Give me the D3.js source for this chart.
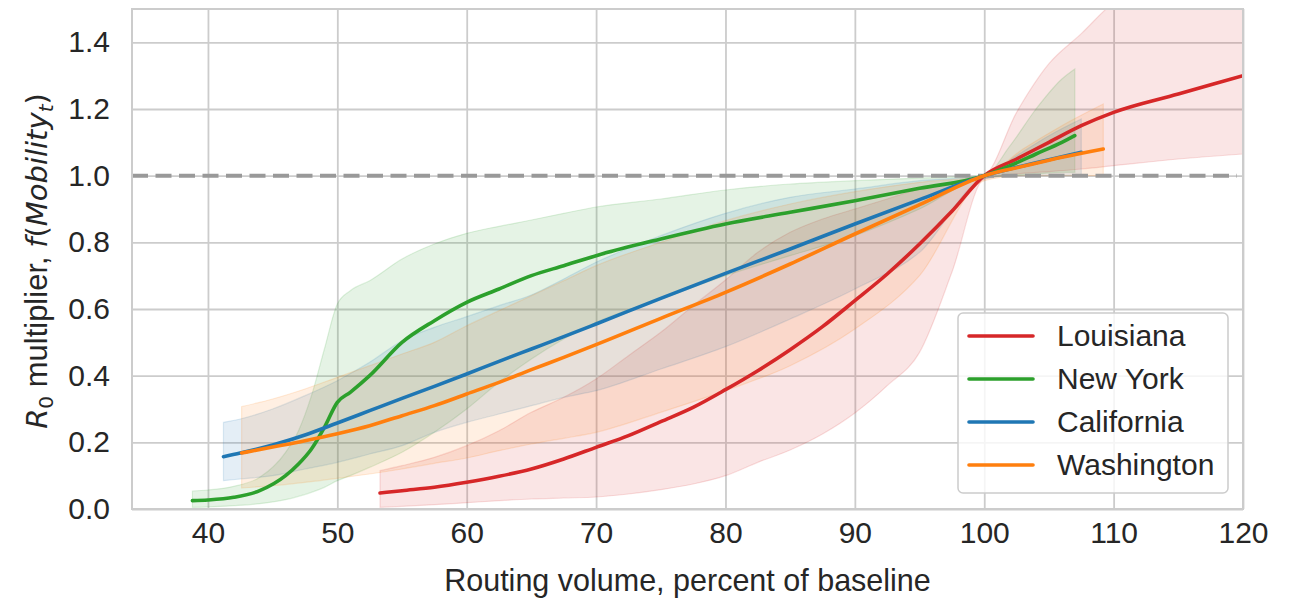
<!DOCTYPE html>
<html>
<head>
<meta charset="utf-8">
<script src="https://cdn.jsdelivr.net/npm/d3@7"></script>
<style>
  body { margin: 0; background: #fff; }
  text { font-family: "Liberation Sans", Arial, sans-serif; fill: #262626; }
</style>
</head>
<body>
<svg id="chart" width="1301" height="602"></svg>
<script>
// Louisiana
const laX    = [53.3, 55, 57.5, 60, 62.5, 65, 67.5, 70, 72.5, 75, 77.5, 80, 82.5, 85, 87.5, 90, 92.5, 95, 97.5, 100, 102.5, 105, 107.5, 110, 115, 120];
const laMean = [0.048, 0.055, 0.065, 0.08, 0.098, 0.12, 0.15, 0.185, 0.22, 0.262, 0.305, 0.358, 0.415, 0.478, 0.547, 0.625, 0.705, 0.795, 0.893, 1.0, 1.05, 1.10, 1.15, 1.19, 1.245, 1.30];
const laLo   = [0.005, 0.008, 0.013, 0.019, 0.025, 0.03, 0.033, 0.036, 0.045, 0.058, 0.075, 0.10, 0.14, 0.177, 0.225, 0.288, 0.37, 0.47, 0.71, 0.99, 1.005, 1.012, 1.02, 1.03, 1.05, 1.065];
const laHi   = [0.115, 0.13, 0.155, 0.19, 0.235, 0.29, 0.335, 0.39, 0.46, 0.53, 0.61, 0.687, 0.77, 0.83, 0.87, 0.90, 0.93, 0.96, 0.98, 1.0, 1.19, 1.336, 1.426, 1.52, 1.6, 1.65];

// New York
const nyX    = [38.8, 40, 42, 44, 46, 47, 48, 49, 50, 51, 52.5, 55, 57.5, 60, 62.5, 65, 67.5, 70, 75, 80, 85, 90, 95, 100, 102, 104, 106, 107];
const nyMean = [0.025, 0.027, 0.035, 0.055, 0.10, 0.135, 0.18, 0.245, 0.32, 0.35, 0.40, 0.50, 0.565, 0.62, 0.66, 0.70, 0.73, 0.76, 0.81, 0.855, 0.89, 0.925, 0.962, 1.0, 1.03, 1.065, 1.10, 1.12];
const nyLo   = [0.005, 0.006, 0.01, 0.016, 0.028, 0.038, 0.05, 0.065, 0.085, 0.10, 0.125, 0.17, 0.23, 0.30, 0.38, 0.45, 0.51, 0.56, 0.63, 0.70, 0.76, 0.82, 0.90, 0.995, 1.0, 1.005, 1.01, 1.01];
const nyHi   = [0.054, 0.057, 0.068, 0.095, 0.17, 0.235, 0.34, 0.48, 0.615, 0.655, 0.685, 0.75, 0.795, 0.827, 0.848, 0.867, 0.887, 0.906, 0.93, 0.957, 0.975, 0.985, 0.993, 1.0, 1.09, 1.20, 1.29, 1.32];

// California
const caX    = [41.2, 42.5, 45, 47.5, 50, 52.5, 55, 57.5, 60, 62.5, 65, 67.5, 70, 75, 80, 85, 90, 95, 100, 102.5, 105, 107.5];
const caMean = [0.157, 0.168, 0.192, 0.222, 0.258, 0.295, 0.332, 0.368, 0.405, 0.443, 0.48, 0.517, 0.555, 0.632, 0.707, 0.78, 0.855, 0.928, 1.0, 1.025, 1.048, 1.07];
const caLo   = [0.085, 0.09, 0.10, 0.12, 0.14, 0.165, 0.19, 0.23, 0.26, 0.285, 0.31, 0.335, 0.355, 0.42, 0.487, 0.57, 0.66, 0.77, 0.99, 1.0, 1.0, 1.0];
const caHi   = [0.26, 0.27, 0.30, 0.34, 0.385, 0.44, 0.505, 0.545, 0.577, 0.61, 0.642, 0.69, 0.74, 0.82, 0.887, 0.935, 0.96, 0.985, 1.0, 1.06, 1.12, 1.17];

// Washington
const waX    = [42.6, 45, 47.5, 50, 52.5, 55, 57.5, 60, 62.5, 65, 67.5, 70, 75, 80, 85, 90, 95, 100, 103, 106, 109.2];
const waMean = [0.168, 0.186, 0.205, 0.226, 0.25, 0.28, 0.31, 0.345, 0.38, 0.418, 0.455, 0.493, 0.572, 0.65, 0.735, 0.825, 0.913, 1.0, 1.028, 1.055, 1.08];
const waLo   = [0.063, 0.07, 0.08, 0.092, 0.105, 0.12, 0.137, 0.153, 0.175, 0.195, 0.212, 0.23, 0.29, 0.355, 0.43, 0.54, 0.70, 0.985, 1.0, 1.0, 1.0];
const waHi   = [0.307, 0.33, 0.36, 0.395, 0.43, 0.465, 0.50, 0.55, 0.595, 0.64, 0.685, 0.73, 0.80, 0.865, 0.915, 0.952, 0.98, 1.0, 1.08, 1.15, 1.215];

const names  = ["Louisiana", "New York", "California", "Washington"];
const colors = ["#d62728", "#2ca02c", "#1f77b4", "#ff7f0e"];
const xTicks = [40, 50, 60, 70, 80, 90, 100, 110, 120];
const yTicks = [0, 0.2, 0.4, 0.6, 0.8, 1.0, 1.2, 1.4];

const series = [
  { x: laX, m: laMean, lo: laLo, hi: laHi },
  { x: nyX, m: nyMean, lo: nyLo, hi: nyHi },
  { x: caX, m: caMean, lo: caLo, hi: caHi },
  { x: waX, m: waMean, lo: waLo, hi: waHi }
];

const mL = 132, mR = 1243, mT = 9, mB = 509;
const svg = d3.select("#chart");

const x = d3.scaleLinear().domain([34.13, 120]).range([mL, mR]);
const y = d3.scaleLinear().domain([0, 1.5]).range([mB, mT]);

// grid
svg.append("g")
  .attr("transform", `translate(0,${mB})`)
  .call(d3.axisBottom(x).tickValues(xTicks).tickSize(-(mB - mT)).tickPadding(13).tickFormat(d3.format("d")))
  .call(g => g.select(".domain").remove())
  .call(g => g.selectAll("line").attr("stroke", "#cccccc").attr("stroke-width", 1.8))
  .call(g => g.selectAll("text").attr("font-size", 30).attr("fill", "#262626")
    .attr("font-family", "Liberation Sans, Arial, sans-serif"));

svg.append("g")
  .attr("transform", `translate(${mL},0)`)
  .call(d3.axisLeft(y).tickValues(yTicks).tickSize(-(mR - mL)).tickPadding(22).tickFormat(d3.format(".1f")))
  .call(g => g.select(".domain").remove())
  .call(g => g.selectAll("line").attr("stroke", "#cccccc").attr("stroke-width", 1.8))
  .call(g => g.selectAll("text").attr("font-size", 30).attr("fill", "#262626")
    .attr("font-family", "Liberation Sans, Arial, sans-serif"));

svg.append("defs").append("clipPath").attr("id", "clip")
  .append("rect").attr("x", mL).attr("y", mT).attr("width", mR - mL).attr("height", mB - mT);

const plot = svg.append("g").attr("clip-path", "url(#clip)");

const area = d3.area()
  .x(d => x(d[0])).y0(d => y(d[1])).y1(d => y(d[2]))
  .curve(d3.curveMonotoneX);
const line = d3.line()
  .x(d => x(d[0])).y(d => y(d[1]))
  .curve(d3.curveMonotoneX);

series.forEach((s, i) => {
  const pts = s.x.map((v, k) => [v, s.lo[k], s.hi[k]]);
  plot.append("path")
    .attr("d", area(pts))
    .attr("fill", colors[i]).attr("fill-opacity", 0.12)
    .attr("stroke", colors[i]).attr("stroke-opacity", 0.15).attr("stroke-width", 1.2);
});

plot.append("line")
  .attr("x1", mL).attr("x2", mR - 6)
  .attr("y1", y(1)).attr("y2", y(1))
  .attr("stroke", "#999999").attr("stroke-width", 4)
  .attr("stroke-dasharray", "16,7.5");

series.forEach((s, i) => {
  plot.append("path")
    .attr("d", line(s.x.map((v, k) => [v, s.m[k]])))
    .attr("fill", "none").attr("stroke", colors[i])
    .attr("stroke-width", 3.6).attr("stroke-linecap", "round");
});

// frame
svg.append("rect")
  .attr("x", mL).attr("y", mT).attr("width", mR - mL).attr("height", mB - mT)
  .attr("fill", "none").attr("stroke", "#cccccc").attr("stroke-width", 2);

// axis labels
svg.append("text")
  .attr("x", (mL + mR) / 2).attr("y", 591)
  .attr("text-anchor", "middle").attr("font-size", 30.5)
  .text("Routing volume, percent of baseline");

const yl = svg.append("text")
  .attr("transform", `translate(47,${(mT + mB) / 2 + 2}) rotate(-90)`)
  .attr("text-anchor", "middle").attr("font-size", 31);
yl.append("tspan").attr("font-style", "italic").attr("font-family", "DejaVu Sans").attr("font-size", 29).text("R");
yl.append("tspan").attr("font-size", 20).attr("dy", 6).attr("font-family", "DejaVu Sans").text("0");
yl.append("tspan").attr("dy", -6).text(" multiplier, ");
yl.append("tspan").attr("font-style", "italic").attr("font-family", "DejaVu Sans").attr("font-size", 29).text("f");
yl.append("tspan").attr("font-family", "DejaVu Sans").attr("font-size", 29).text("(");
yl.append("tspan").attr("font-style", "italic").attr("font-family", "DejaVu Sans").attr("font-size", 29).text("Mobility");
yl.append("tspan").attr("font-style", "italic").attr("font-family", "DejaVu Sans").attr("font-size", 20).attr("dy", 6).text("t");
yl.append("tspan").attr("font-family", "DejaVu Sans").attr("font-size", 29).attr("dy", -6).text(")");

// legend
const lg = svg.append("g");
lg.append("rect")
  .attr("x", 958).attr("y", 313).attr("width", 270).attr("height", 180).attr("rx", 5)
  .attr("fill", "#ffffff").attr("fill-opacity", 0.8)
  .attr("stroke", "#cccccc").attr("stroke-width", 1.5);
names.forEach((n, i) => {
  const yy = 336 + i * 43;
  lg.append("line").attr("x1", 969).attr("x2", 1033).attr("y1", yy).attr("y2", yy)
    .attr("stroke", colors[i]).attr("stroke-width", 3.6).attr("stroke-linecap", "round");
  lg.append("text").attr("x", 1057).attr("y", yy + 10).attr("font-size", 30).text(n);
});
</script>
</body>
</html>
